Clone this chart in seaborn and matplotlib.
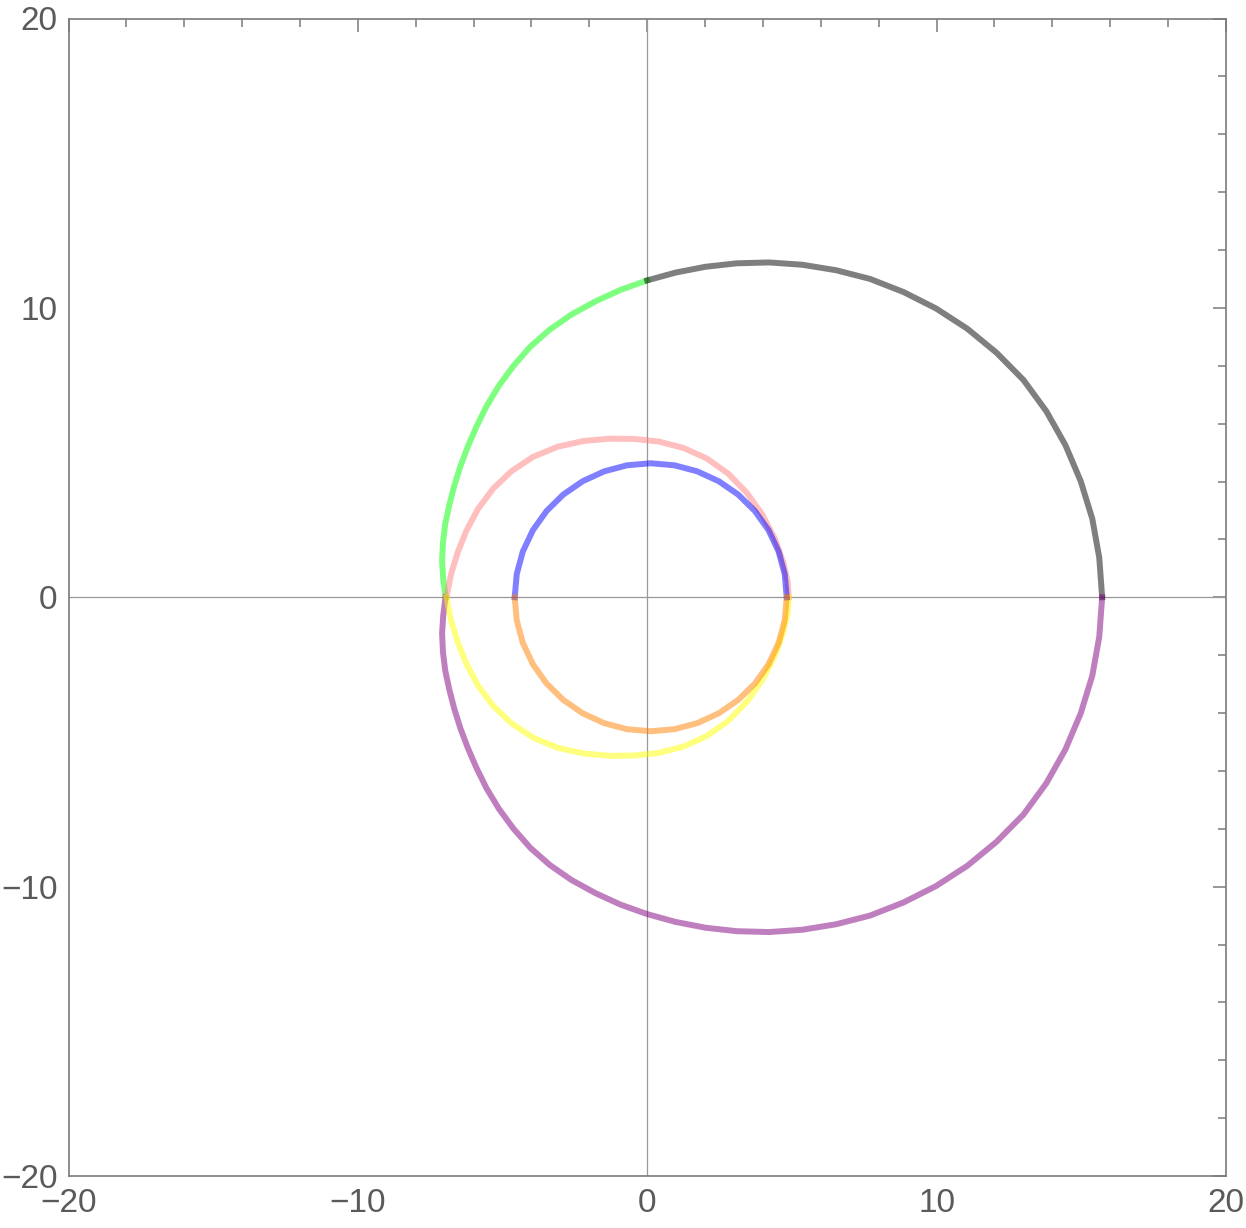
import matplotlib
matplotlib.use("Agg")
import matplotlib.pyplot as plt
import seaborn as sns
from matplotlib.ticker import MultipleLocator

# --- curve points (upper halves; lower halves are the mirror) ---
green_x = [-6.97, -7.05, -7.09, -7.06, -6.98, -6.84, -6.67, -6.46, -6.20, -5.90,
           -5.55, -5.12, -4.62, -4.04, -3.37, -2.62, -1.80, -0.93, 0.0]
green_y = [0.0, 0.62, 1.25, 1.89, 2.54, 3.19, 3.85, 4.52, 5.21, 5.90,
           6.61, 7.32, 8.00, 8.66, 9.25, 9.77, 10.22, 10.62, 10.95]

gray_x = [0.0, 0.98, 2.01, 3.09, 4.21, 5.36, 6.53, 7.70, 8.85, 9.98,
          11.06, 12.07, 13.00, 13.79, 14.45, 14.98, 15.38, 15.62, 15.72]
gray_y = [10.95, 11.22, 11.42, 11.54, 11.57, 11.49, 11.30, 11.00, 10.55, 9.98,
          9.28, 8.45, 7.51, 6.43, 5.26, 4.01, 2.71, 1.37, 0.0]

purple_x = [-6.97, -7.05, -7.09, -7.06, -6.98, -6.84, -6.67, -6.46, -6.20, -5.90,
            -5.55, -5.12, -4.62, -4.04, -3.37, -2.62, -1.80, -0.93, 0.0,
            0.98, 2.01, 3.09, 4.21, 5.36, 6.53, 7.70, 8.85, 9.98,
            11.06, 12.07, 13.00, 13.79, 14.45, 14.98, 15.38, 15.62, 15.72]
purple_y = [0.0, -0.62, -1.25, -1.89, -2.54, -3.19, -3.85, -4.52, -5.21, -5.90,
            -6.61, -7.32, -8.00, -8.66, -9.25, -9.77, -10.22, -10.62, -10.95,
            -11.22, -11.42, -11.54, -11.57, -11.49, -11.30, -11.00, -10.55, -9.98,
            -9.28, -8.45, -7.51, -6.43, -5.26, -4.01, -2.71, -1.37, 0.0]

pink_x = [-6.94, -6.78, -6.55, -6.25, -5.85, -5.33, -4.70, -3.95, -3.10, -2.20,
          -1.30, -0.45, 0.40, 1.25, 2.05, 2.80, 3.45, 3.98, 4.42, 4.70, 4.85, 4.89]
pink_y = [0.0, 0.80, 1.55, 2.30, 3.05, 3.75, 4.35, 4.85, 5.20, 5.40,
          5.48, 5.47, 5.38, 5.16, 4.80, 4.27, 3.60, 2.85, 2.00, 1.20, 0.55, 0.0]

yellow_x = pink_x
yellow_y = [0.0, -0.80, -1.55, -2.30, -3.05, -3.75, -4.35, -4.85, -5.20, -5.40,
            -5.48, -5.47, -5.38, -5.16, -4.80, -4.27, -3.60, -2.85, -2.00, -1.20, -0.55, 0.0]

blue_x = [-4.58, -4.51, -4.30, -3.95, -3.48, -2.90, -2.23, -1.49, -0.70, 0.12,
          0.94, 1.73, 2.47, 3.14, 3.72, 4.19, 4.54, 4.75, 4.82]
blue_y = [0.0, 0.80, 1.58, 2.32, 2.98, 3.55, 4.01, 4.35, 4.56, 4.63,
          4.56, 4.35, 4.01, 3.55, 2.98, 2.32, 1.58, 0.80, 0.0]

orange_x = blue_x
orange_y = [0.0, -0.80, -1.58, -2.32, -2.98, -3.55, -4.01, -4.35, -4.56, -4.63,
            -4.56, -4.35, -4.01, -3.55, -2.98, -2.32, -1.58, -0.80, 0.0]

curves = [
    (green_x, green_y, (0, 1, 0)),
    (gray_x, gray_y, (0, 0, 0)),
    (purple_x, purple_y, (0.5, 0, 0.5)),
    (pink_x, pink_y, (1, 0.5, 0.5)),
    (yellow_x, yellow_y, (1, 1, 0)),
    (blue_x, blue_y, (0, 0, 1)),
    (orange_x, orange_y, (1, 0.5, 0)),
]

sns.set_style("white")
plt.rcParams['font.family'] = ['Liberation Sans', 'DejaVu Sans']

fig = plt.figure(figsize=(12.46, 12.28), dpi=100)
ax = fig.add_axes([68.5 / 1246, 52 / 1228, 1157.5 / 1246, 1157.5 / 1228])

frame_col = '#7a7a7a'
ax.axhline(0, color='#999999', lw=0.9, zorder=1)
ax.axvline(0, color='#999999', lw=0.9, zorder=1)

for cx, cy, col in curves:
    sns.lineplot(x=cx, y=cy, sort=False, estimator=None, color=col, alpha=0.5,
                 lw=4.3, solid_capstyle='projecting', solid_joinstyle='round',
                 ax=ax, zorder=3)

ax.set_xlim(-20, 20)
ax.set_ylim(-20, 20)
ax.xaxis.set_major_locator(MultipleLocator(10))
ax.yaxis.set_major_locator(MultipleLocator(10))
ax.xaxis.set_minor_locator(MultipleLocator(2))
ax.yaxis.set_minor_locator(MultipleLocator(2))

for s in ax.spines.values():
    s.set_color(frame_col)
    s.set_linewidth(1.2)

ax.tick_params(which='both', direction='in', top=True, right=True,
               color=frame_col, width=1.1, labelcolor='#5a5a5a', labelsize=24)
ax.tick_params(which='major', length=9.5)
ax.tick_params(which='minor', length=5.8)
ax.tick_params(axis='x', which='major', pad=9)
ax.tick_params(axis='y', which='major', pad=8)
ax.set_xlabel("")
ax.set_ylabel("")

fig.savefig('out.png', dpi=100)
